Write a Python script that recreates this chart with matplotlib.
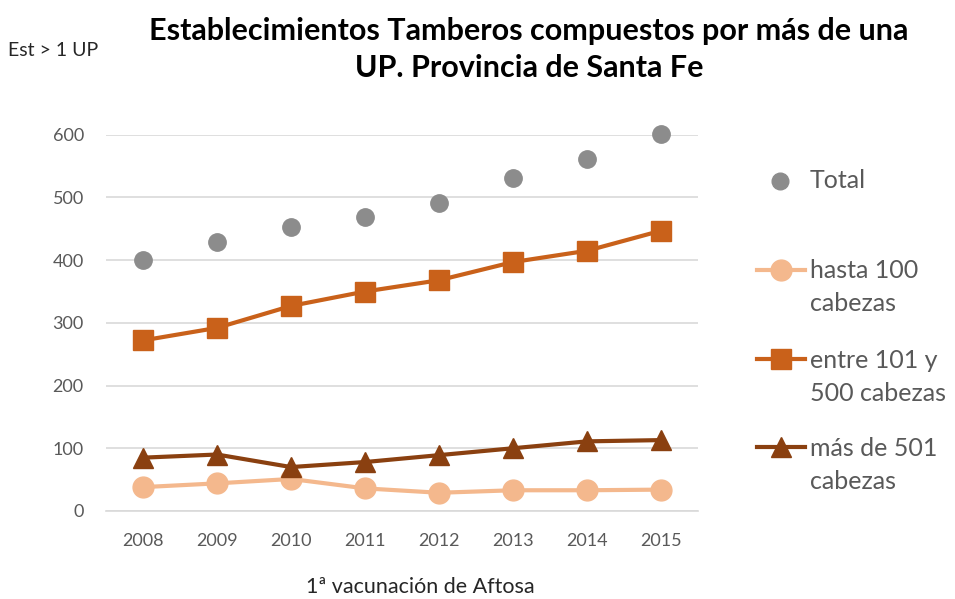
import matplotlib
matplotlib.use('Agg')
import matplotlib.pyplot as plt
from matplotlib.lines import Line2D

# DATA
years = ['2008', '2009', '2010', '2011', '2012', '2013', '2014', '2015']
total = [400, 429, 453, 469, 491, 531, 561, 601]
hasta_100 = [38, 44, 51, 36, 29, 33, 33, 34]
entre_101_500 = [272, 292, 327, 350, 368, 397, 415, 447]
mas_501 = [85, 90, 70, 78, 89, 100, 111, 113]
labels = ['Total', 'hasta 100\ncabezas', 'entre 101 y\n500 cabezas', 'más de 501\ncabezas']

c_total = '#8c8c8c'
c_hasta = '#f4b88d'
c_entre = '#c9611a'
c_mas = '#8a4010'
c_text = '#595959'

plt.rcParams['font.family'] = ['Lato', 'DejaVu Sans']

fig = plt.figure(figsize=(9.55, 5.99), dpi=100)
ax = fig.add_axes([0.111, 0.147, 0.620, 0.628])

x = list(range(len(years)))

ax.plot(x, total, 'o', color=c_total, ms=12.5, clip_on=False, zorder=5)
ax.plot(x, hasta_100, '-o', color=c_hasta, lw=3, ms=15, clip_on=False, zorder=4)
ax.plot(x, entre_101_500, '-s', color=c_entre, lw=3, ms=14, clip_on=False, zorder=4)
ax.plot(x, mas_501, '-^', color=c_mas, lw=3, ms=14, clip_on=False, zorder=4)

ax.set_xlim(-0.5, len(years) - 0.5)
ax.set_ylim(0, 600)
ax.set_yticks(range(0, 601, 100))
ax.set_xticks(x)
ax.set_xticklabels(years)
ax.grid(axis='y', color='#d9d9d9', lw=1.2)
ax.set_axisbelow(True)
for s in ['top', 'right', 'left']:
    ax.spines[s].set_visible(False)
ax.spines['bottom'].set_color('#d9d9d9')
ax.spines['bottom'].set_linewidth(1.2)
ax.tick_params(length=0, labelsize=13, colors=c_text)
ax.tick_params(axis='x', pad=16)
ax.tick_params(axis='y', pad=16)

# Titles and axis notes
fig.text(0.554, 0.948, 'Establecimientos Tamberos compuestos por más de una',
         ha='center', va='center', fontsize=22, fontweight='bold')
fig.text(0.554, 0.886, 'UP. Provincia de Santa Fe',
         ha='center', va='center', fontsize=22, fontweight='bold')
fig.text(0.008, 0.915, 'Est > 1 UP', fontsize=14, color='#262626', va='center')
fig.text(0.44, 0.003, '1ª vacunación de Aftosa', fontsize=15.5, color='#262626',
         ha='center', va='bottom')

# Legend, drawn by hand to follow the original spacing
handles = [
    dict(marker='o', color=c_total, ms=12),
    dict(marker='o', color=c_hasta, lw=3, ms=15),
    dict(marker='s', color=c_entre, lw=3, ms=14),
    dict(marker='^', color=c_mas, lw=3, ms=14),
]
leg_y = [0.698, 0.521, 0.371, 0.224]
for i, (h, lab, yy) in enumerate(zip(handles, labels, leg_y)):
    style = dict(h)
    marker = style.pop('marker')
    ms = style.pop('ms')
    if i == 0:
        fig.add_artist(Line2D([0.817], [yy], transform=fig.transFigure,
                              marker=marker, ms=ms, ls='none', color=style['color']))
    else:
        first = yy + 0.029
        fig.add_artist(Line2D([0.793, 0.843], [first, first], transform=fig.transFigure,
                              **style))
        fig.add_artist(Line2D([0.818], [first], transform=fig.transFigure,
                              marker=marker, ms=ms, ls='none', color=style['color']))
    fig.text(0.848, yy, lab, fontsize=18, color=c_text, va='center', ha='left',
             linespacing=1.5)

fig.savefig('out.png', dpi=100)
